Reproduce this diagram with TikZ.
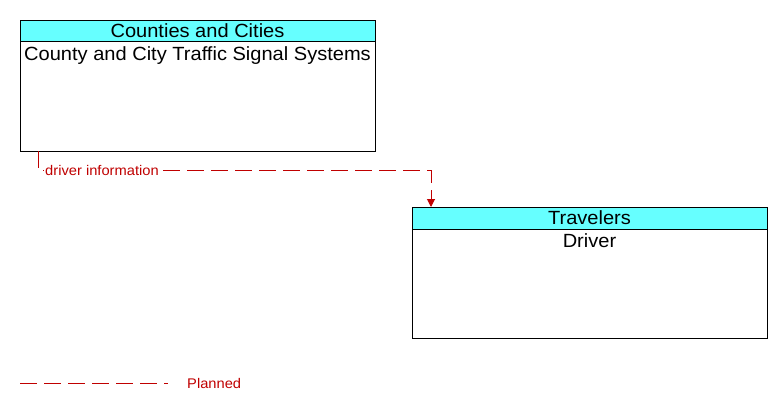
\documentclass[tikz,border=0pt]{standalone}
\usepackage{fontspec}
\setmainfont{Liberation Sans}[FakeStretch=1.05]
\usetikzlibrary{arrows.meta}
\definecolor{hdr}{RGB}{102,255,255}
\definecolor{flow}{RGB}{192,0,0}
\begin{document}
\begin{tikzpicture}[x=1pt,y=-1pt,
  boxbody/.style={draw=black,line width=0.8pt,fill=white},
  boxhead/.style={draw=black,line width=0.8pt,fill=hdr},
  titletext/.style={font=\fontsize{19.1}{21}\selectfont,text=black,inner sep=0pt,anchor=base},
  flowline/.style={draw=flow,line width=1pt,dash pattern=on 17pt off 7pt},
  flowlabel/.style={font=\fontsize{14}{16}\selectfont,text=flow,inner sep=1pt,fill=white}]
\useasboundingbox (0,0) rectangle (782,410);
% Box 1
\draw[boxbody] (20,20) rectangle (375,151);
\draw[boxhead] (20,20) rectangle (375,41);
\node[titletext] (h1) at (197.5,37) {Counties and Cities};
\node[titletext] (b1) at (197.5,60) {County and City Traffic Signal Systems};
\coordinate (s1) at (38,151);
% Box 2
\draw[boxbody] (412,207) rectangle (767,338);
\draw[boxhead] (412,207) rectangle (767,229);
\node[titletext] (h2) at (589.5,224) {Travelers};
\node[titletext] (b2) at (589.5,247) {Driver};
\coordinate (t2) at (431,207);
% connector
\draw[flowline,-{Triangle[length=8pt,width=8pt]}] (s1) -- (38,170) -- (431,170) -- (t2);
\node[flowlabel,anchor=west] (lab) at (44,170) {driver information};
% legend
\coordinate (l1) at (20,383);
\coordinate (l2) at (168,383);
\draw[flowline] (l1) -- (l2);
\node[flowlabel,anchor=west,fill=none] (leg) at (186,383) {Planned};
\end{tikzpicture}
\end{document}
